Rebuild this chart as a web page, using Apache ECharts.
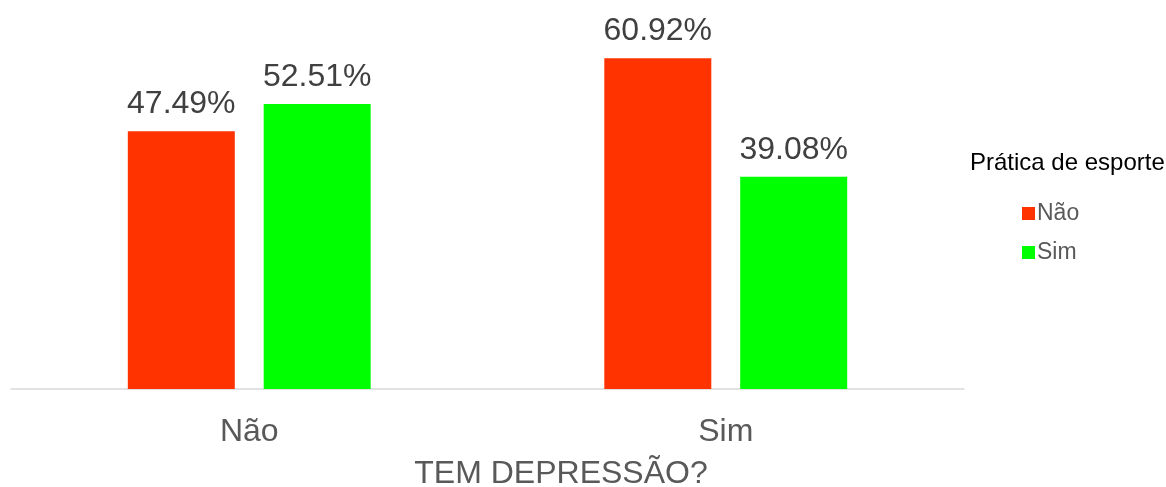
<!DOCTYPE html>
<html>
<head>
<meta charset="utf-8">
<script src="https://cdn.jsdelivr.net/npm/echarts@6/dist/echarts.min.js"></script>
<style>html,body{margin:0;padding:0;background:#fff}#c{width:1166px;height:487px}</style>
</head>
<body>
<div id="c"></div>
<script>
var categories = ['Não', 'Sim'];
var seriesNames = ['Não', 'Sim'];
var valuesNao = [47.49, 60.92];
var valuesSim = [52.51, 39.08];
var colors = ['#FF3300', '#00FF00'];
var axisTitle = 'TEM DEPRESSÃO?';
var legendTitle = 'Prática de esporte';

var chart = echarts.init(document.getElementById('c'));
var font = '"Liberation Sans", Arial, sans-serif';
function mk(name, data, color) {
  return {
    name: name, type: 'bar', data: data, barWidth: 107, barGap: '27%',
    itemStyle: { color: color },
    label: { show: true, position: 'top', distance: 11, color: '#404040', fontSize: 32, fontFamily: font,
      formatter: function (p) { return p.value.toFixed(2) + '%'; } }
  };
}
chart.setOption({
  animation: false,
  textStyle: { fontFamily: font },
  grid: { left: 11, right: 202, top: 9, bottom: 98, containLabel: false },
  xAxis: {
    type: 'category', data: categories,
    axisLine: { lineStyle: { color: '#d9d9d9', width: 1.5 } },
    axisTick: { show: false },
    axisLabel: { color: '#595959', fontSize: 32, margin: 27, fontFamily: font }
  },
  yAxis: { type: 'value', min: 0, max: 70, show: false },
  legend: {
    data: seriesNames, orient: 'vertical', left: 1017, top: 197,
    itemWidth: 13, itemHeight: 13, itemGap: 16, icon: 'rect',
    textStyle: { color: '#595959', fontSize: 23, fontFamily: font, padding: [0, 0, 0, -3] }
  },
  graphic: [{
    type: 'text', left: 970, top: 151,
    style: { text: legendTitle, fill: '#000', fontSize: 24, fontFamily: font }
  }, {
    type: 'text', x: 561, y: 474,
    style: { text: axisTitle, fill: '#595959', fontSize: 32, fontFamily: font, align: 'center', verticalAlign: 'middle' }
  }],
  series: [mk(seriesNames[0], valuesNao, colors[0]), mk(seriesNames[1], valuesSim, colors[1])]
});
</script>
</body>
</html>
